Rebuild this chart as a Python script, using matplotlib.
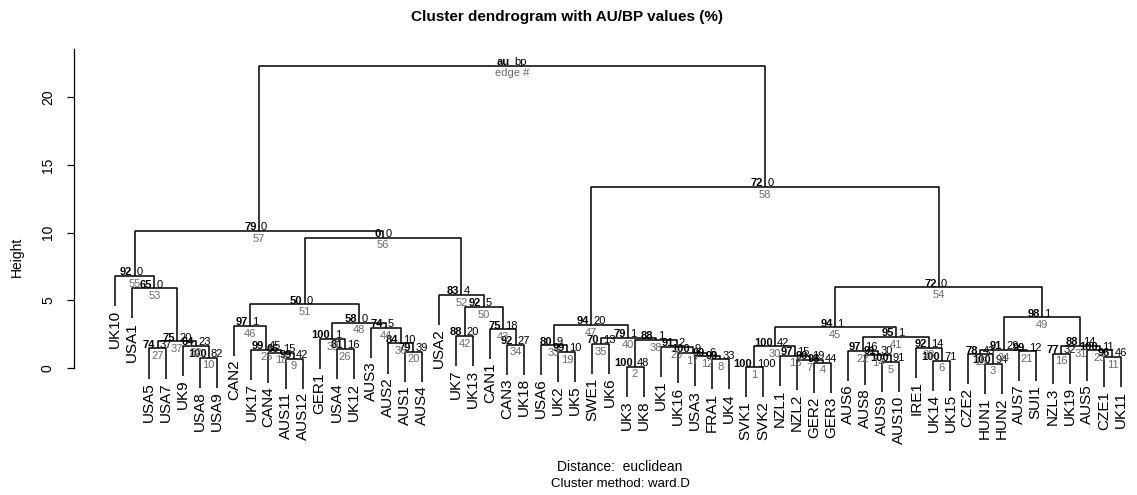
import matplotlib.pyplot as plt

plt.rcParams['font.family'] = ['Liberation Sans', 'DejaVu Sans']

# leaf labels in dendrogram order
leaves = ["UK10", "USA1", "USA5", "USA7", "UK9", "USA8", "USA9", "CAN2", "UK17", "CAN4",
          "AUS11", "AUS12", "GER1", "USA4", "UK12", "AUS3", "AUS2", "AUS1", "AUS4", "USA2",
          "UK7", "UK13", "CAN1", "CAN3", "UK18", "USA6", "UK2", "UK5", "SWE1", "UK6",
          "UK3", "UK8", "UK1", "UK16", "USA3", "FRA1", "UK4", "SVK1", "SVK2", "NZL1",
          "NZL2", "GER2", "GER3", "AUS6", "AUS8", "AUS9", "AUS10", "IRE1", "UK14", "UK15",
          "CZE2", "HUN1", "HUN2", "AUS7", "SUI1", "NZL3", "UK19", "AUS5", "CZE1", "UK11"]

# merges, edge k = position k-1 ("eN" refers to edge N)
merge_left = ["SVK1", "UK3", "HUN1", "GER2", "AUS9", "UK14", "NZL2", "FRA1", "AUS11", "USA8",
              "CZE1", "USA3", "NZL1", "AUS8", "CZE2", "NZL3", "UK16", "CAN4", "UK2", "AUS1",
              "AUS7", "AUS6", "AUS5", "e15", "UK17", "USA4", "USA5", "IRE1", "UK1", "e1",
              "e16", "UK9", "USA6", "CAN3", "SWE1", "AUS2", "e27", "e2", "GER1", "e35",
              "e22", "UK7", "CAN1", "AUS3", "e30", "CAN2", "e33", "e39", "e24", "e42",
              "e46", "USA2", "USA1", "e45", "UK10", "e51", "e55", "e47", "e57"]
merge_right = ["SVK2", "UK8", "HUN2", "GER3", "AUS10", "UK15", "e4", "UK4", "AUS12", "USA9",
               "UK11", "e8", "e7", "e5", "e3", "UK19", "e12", "e9", "UK5", "AUS4",
               "SUI1", "e14", "e11", "e21", "e18", "UK12", "USA7", "e6", "e17", "e13",
               "e23", "e10", "e19", "UK18", "UK6", "e20", "e32", "e29", "e26", "e38",
               "e28", "UK13", "e34", "e36", "e41", "e25", "e40", "e44", "e31", "e43",
               "e48", "e50", "e37", "e49", "e53", "e52", "e56", "e54", "e58"]
heights = [0.04, 0.08, 0.30, 0.38, 0.44, 0.52, 0.57, 0.62, 0.68, 0.74,
           0.79, 0.84, 0.90, 0.95, 1.00, 1.04, 1.08, 1.12, 1.16, 1.19,
           1.22, 1.25, 1.28, 1.31, 1.34, 1.38, 1.43, 1.48, 1.53, 1.57,
           1.61, 1.64, 1.67, 1.70, 1.75, 1.80, 1.95, 2.05, 2.12, 2.22,
           2.28, 2.34, 2.85, 2.93, 3.00, 3.08, 3.16, 3.33, 3.74, 4.51,
           4.69, 5.38, 5.87, 5.95, 6.78, 9.62, 10.11, 13.37, 22.34]
au = [100, 100, 100, 98, 100, 100, 90, 99, 99, 100,
      96, 99, 97, 91, 78, 77, 100, 66, 99, 79,
      99, 97, 100, 91, 99, 81, 74, 92, 91, 100,
      88, 64, 80, 92, 70, 84, 75, 88, 100, 79,
      95, 88, 75, 74, 94, 97, 94, 58, 98, 92,
      50, 83, 65, 72, 92, 0, 79, 72, None]
bp = [100, 48, 94, 44, 91, 71, 19, 33, 42, 82,
      46, 6, 15, 30, 43, 32, 9, 15, 10, 39,
      12, 16, 11, 29, 45, 16, 37, 14, 2, 42,
      14, 23, 9, 27, 13, 10, 20, 1, 1, 1,
      1, 20, 18, 5, 1, 1, 20, 0, 1, 5,
      0, 4, 0, 0, 0, 0, 0, 0, None]

hang = 0.1 * (max(heights) - min(heights))

# leaf x positions from the leaf order, node x = midpoint of children
xpos = {name: i for i, name in enumerate(leaves)}
ypos = {}
for k in range(len(heights)):
    node = "e%d" % (k + 1)
    xpos[node] = (xpos[merge_left[k]] + xpos[merge_right[k]]) / 2
    ypos[node] = heights[k]

W, H = 1137, 495
fig = plt.figure(figsize=(W / 100, H / 100), dpi=100)

# axes placement in pixels
left_px, top_px, bottom_px = 74, 40, 400
ax = fig.add_axes([left_px / W, (H - bottom_px) / H, (W - left_px) / W, (bottom_px - top_px) / H])
x_scale = 17.05
x_min = -(115 - left_px) / x_scale
ax.set_xlim(x_min, x_min + (W - left_px) / x_scale)
y0_px, y_scale = 367.7, 13.52
ax.set_ylim((y0_px - bottom_px) / y_scale, (y0_px - top_px) / y_scale)
wid = ax.get_ylim()[1] - ax.get_ylim()[0]

for k in range(len(heights)):
    h = heights[k]
    l, r = merge_left[k], merge_right[k]
    yl = ypos.get(l, h - hang)
    yr = ypos.get(r, h - hang)
    ax.plot([xpos[l], xpos[l], xpos[r], xpos[r]], [yl, h, h, yr],
            color='black', lw=1.1, solid_capstyle='butt', clip_on=False)
    for child, yc in ((l, yl), (r, yr)):
        if child not in ypos:
            ax.annotate(child, (xpos[child], yc), xytext=(0, -2.5), textcoords='offset points',
                        rotation=90, ha='center', va='top', fontsize=11, annotation_clip=False)

    x = xpos["e%d" % (k + 1)]
    a_txt = "au" if au[k] is None else str(au[k])
    b_txt = "bp" if bp[k] is None else str(bp[k])
    e_txt = "edge #" if k == len(heights) - 1 else str(k + 1)
    ax.annotate(a_txt, (x, h + 0.01 * wid), xytext=(-1.6, 0), textcoords='offset points',
                ha='right', va='center', fontsize=8, fontweight='bold', annotation_clip=False)
    ax.annotate(b_txt, (x, h + 0.01 * wid), xytext=(1.6, 0), textcoords='offset points',
                ha='left', va='center', fontsize=8, annotation_clip=False)
    ax.annotate(e_txt, (x, h), xytext=(0, -2), textcoords='offset points',
                ha='center', va='top', fontsize=8, color='#6a6a6a', annotation_clip=False)

for s in ['top', 'right', 'bottom']:
    ax.spines[s].set_visible(False)
ax.spines['left'].set_bounds(0, 23.55)
ax.spines['left'].set_linewidth(0.9)
ax.set_xticks([])
ax.set_yticks([0, 5, 10, 15, 20])
ax.tick_params(axis='y', length=5.3, width=0.9, pad=8.4, labelsize=10)
for t in ax.get_yticklabels():
    t.set_rotation(90)
    t.set_va('center')

fig.text(17 / W, 1 - 257 / H, "Height", rotation=90, ha='center', va='center', fontsize=10)
fig.text(567 / W, 1 - 17 / H, "Cluster dendrogram with AU/BP values (%)",
         ha='center', va='center', fontsize=11, fontweight='bold')
fig.text(620 / W, 1 - 467 / H, "Distance:  euclidean", ha='center', va='center', fontsize=10)
fig.text(620 / W, 1 - 484 / H, "Cluster method: ward.D", ha='center', va='center', fontsize=9.5)

fig.savefig("out.png", dpi=100)
